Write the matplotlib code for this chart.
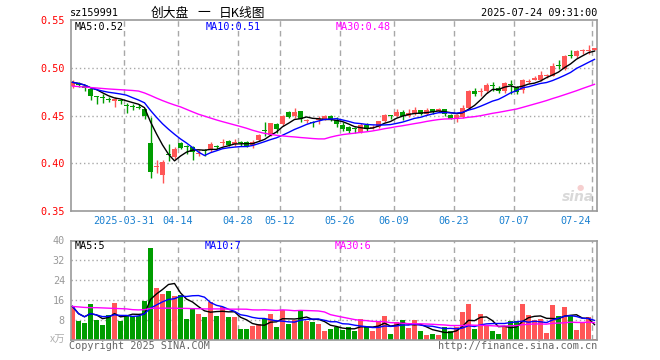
import numpy as np
import pandas as pd
import matplotlib
matplotlib.use("Agg")
import matplotlib.pyplot as plt
import matplotlib.transforms as mtrans

# daily candles, 2025-03-18 .. 2025-07-24 (88 trading days)
opens = [0.481, 0.4830, 0.481, 0.478, 0.471, 0.4694, 0.4674, 0.4653, 0.4660, 0.4612,
         0.4594, 0.4587, 0.4573, 0.4212, 0.3963, 0.3875, 0.4100, 0.4068, 0.4208, 0.4180,
         0.4168, 0.4100, 0.4135, 0.4140, 0.4180, 0.4208, 0.4236, 0.4202, 0.4219, 0.4224,
         0.4188, 0.4247, 0.4344, 0.4297, 0.4410, 0.4410, 0.4535, 0.4497, 0.4545, 0.4445,
         0.4436, 0.4452, 0.4458, 0.4495, 0.4450, 0.4405, 0.4378, 0.4364, 0.4331, 0.4405,
         0.4372, 0.4385, 0.4441, 0.4503, 0.4500, 0.4537, 0.4497, 0.4522, 0.4557, 0.4522,
         0.4566, 0.4548, 0.4565, 0.4503, 0.4466, 0.4490, 0.4583, 0.4757, 0.4747, 0.4757,
         0.4819, 0.4792, 0.4757, 0.4833, 0.4799, 0.4767, 0.4858, 0.4878, 0.4878, 0.4917,
         0.4920, 0.5028, 0.4990, 0.5132, 0.5128, 0.5174, 0.5177, 0.5184]
highs = [0.487, 0.485, 0.482, 0.479, 0.471, 0.4722, 0.470, 0.4694, 0.4677, 0.4635,
         0.4625, 0.4618, 0.4583, 0.4488, 0.4040, 0.4030, 0.4200, 0.4170, 0.4222, 0.4195,
         0.4180, 0.4135, 0.4149, 0.4219, 0.4191, 0.4250, 0.4247, 0.4254, 0.4233, 0.4230,
         0.4240, 0.4310, 0.4430, 0.4427, 0.4427, 0.4503, 0.4545, 0.4578, 0.4552, 0.4469,
         0.4445, 0.4497, 0.4503, 0.4503, 0.4486, 0.4430, 0.4392, 0.4384, 0.4420, 0.4420,
         0.4400, 0.4448, 0.4520, 0.4505, 0.4573, 0.4562, 0.4573, 0.4588, 0.4564, 0.4580,
         0.4566, 0.4580, 0.4570, 0.4514, 0.4514, 0.4608, 0.4767, 0.4792, 0.4792, 0.4844,
         0.4851, 0.4809, 0.4851, 0.4878, 0.4809, 0.4885, 0.4885, 0.4920, 0.4965, 0.4938,
         0.5052, 0.5087, 0.5139, 0.5191, 0.5184, 0.5198, 0.5236, 0.5212]
lows = [0.479, 0.480, 0.476, 0.466, 0.462, 0.4635, 0.4642, 0.4594, 0.4618, 0.4531,
        0.4559, 0.4566, 0.4462, 0.3844, 0.3895, 0.3795, 0.4028, 0.4045, 0.4149, 0.4100,
        0.4038, 0.4075, 0.4080, 0.4115, 0.4149, 0.4184, 0.4177, 0.4184, 0.4177, 0.4167,
        0.4163, 0.4236, 0.4288, 0.4288, 0.4320, 0.4392, 0.4476, 0.4479, 0.4436, 0.4418,
        0.4386, 0.4415, 0.4455, 0.4445, 0.4380, 0.4335, 0.4315, 0.4320, 0.4315, 0.4340,
        0.4358, 0.4372, 0.4436, 0.4462, 0.4490, 0.4458, 0.4490, 0.4503, 0.4503, 0.4503,
        0.4514, 0.4535, 0.4497, 0.4462, 0.4434, 0.4479, 0.4573, 0.4705, 0.4705, 0.4740,
        0.4757, 0.4733, 0.4740, 0.4722, 0.4722, 0.4740, 0.4844, 0.4872, 0.4861, 0.4896,
        0.4913, 0.4990, 0.4983, 0.5104, 0.5104, 0.5149, 0.5149, 0.5184]
closes = [0.485, 0.4825, 0.479, 0.4705, 0.4698, 0.4681, 0.4668, 0.4677, 0.4650, 0.4602,
          0.4590, 0.4580, 0.4497, 0.3906, 0.3972, 0.4010, 0.4092, 0.4149, 0.4160, 0.4176,
          0.4115, 0.4108, 0.4130, 0.4201, 0.4175, 0.4225, 0.4191, 0.4222, 0.4210, 0.4184,
          0.4224, 0.4299, 0.4337, 0.4420, 0.4365, 0.4497, 0.4481, 0.4536, 0.4462, 0.4455,
          0.4426, 0.4460, 0.4497, 0.4460, 0.4410, 0.4362, 0.4335, 0.4358, 0.4405, 0.4365,
          0.4384, 0.4441, 0.4505, 0.4498, 0.4535, 0.4497, 0.4527, 0.4557, 0.4518, 0.4560,
          0.4538, 0.4573, 0.4520, 0.4469, 0.4505, 0.4583, 0.4757, 0.4722, 0.4757, 0.4826,
          0.4812, 0.4757, 0.4844, 0.4820, 0.4747, 0.4878, 0.4865, 0.4896, 0.4931, 0.4924,
          0.5017, 0.5017, 0.5128, 0.5125, 0.5174, 0.5191, 0.5187, 0.5208]
# volume, unit 万
volumes = [13.5, 7.7, 6.8, 14.4, 8.0, 6.0, 10.0, 14.8, 7.7, 9.8,
           9.6, 9.6, 15.7, 36.8, 20.9, 18.5, 19.7, 17.7, 18.0, 8.4,
           12.6, 10.4, 9.2, 15.3, 9.6, 13.2, 9.3, 9.3, 4.3, 4.5,
           5.7, 6.6, 8.6, 10.4, 5.2, 12.0, 6.4, 8.2, 11.8, 7.8,
           7.2, 6.6, 3.7, 4.4, 5.3, 4.0, 5.2, 3.6, 8.4, 5.2,
           3.6, 7.2, 9.6, 2.4, 7.2, 8.0, 4.8, 8.0, 3.6, 2.0,
           2.4, 2.0, 5.2, 3.6, 5.2, 11.2, 14.4, 4.4, 10.4, 6.0,
           3.6, 2.4, 5.2, 7.6, 7.6, 14.4, 10.0, 8.0, 8.4, 2.8,
           14.0, 9.6, 13.2, 10.0, 4.0, 7.2, 9.2, 0.4]

# MA30 before a full 30-day window exists (days 0..28)
ma30_price_head = [0.481, 0.4805, 0.480, 0.4795, 0.479, 0.4785, 0.478, 0.4776, 0.4772, 0.4768,
                   0.4764, 0.4758, 0.4738, 0.4712, 0.4684, 0.4658, 0.4634, 0.4612, 0.4592, 0.4566,
                   0.4540, 0.4515, 0.4495, 0.4475, 0.4455, 0.4437, 0.4420, 0.4403, 0.4386]
ma30_vol_head = [13.5, 13.3, 13.1, 13.0, 13.0, 12.9, 12.8, 12.7, 12.6, 12.5,
                 12.2, 12.1, 12.2, 12.7, 12.8, 12.8, 12.8, 12.8, 12.7, 12.7,
                 12.6, 12.6, 12.5, 12.5, 12.5, 12.5, 12.4, 12.4, 12.4]

date_labels = ["2025-03-31", "04-14", "04-28", "05-12", "05-26", "06-09", "06-23", "07-07", "07-24"]
date_idx = [9, 18, 28, 35, 45, 54, 64, 74, 87]
price_ticks = [0.35, 0.40, 0.45, 0.50, 0.55]
vol_ticks = [8, 16, 24, 32, 40]

RED = "#ff5656"
GREEN = "#009d00"
GRID = "#a8a8a8"
FRAME = "#999999"
MONO = "DejaVu Sans Mono"
CJK = ["Noto Sans CJK SC", "DejaVu Sans"]


def ma(series, n, head=None):
    m = series.rolling(n, min_periods=1).mean()
    if head is not None:
        m.iloc[:len(head)] = head
    return m


x = np.arange(len(closes))
o = np.array(opens); c = np.array(closes)
up = c >= o
cols = [RED if u else GREEN for u in up]

cs = pd.Series(closes)
vs = pd.Series(volumes)

fig = plt.figure(figsize=(6.6, 3.6), dpi=100)
W, H = 660.0, 360.0


def fx(px):
    return px / W


def fy(py):
    return 1 - py / H


x0, x1 = 70.5, 597.0
ax = fig.add_axes([fx(x0), fy(211), (x1 - x0) / W, (211 - 20.3) / H])
axv = fig.add_axes([fx(x0), fy(340), (x1 - x0) / W, (340 - 240.5) / H])

xlim = ((x0 - 72.5) / 6.0, (x1 - 72.5) / 6.0)

for a in (ax, axv):
    a.set_xlim(*xlim)
    for s in a.spines.values():
        s.set_color(FRAME)
        s.set_linewidth(1.2)
    a.set_xticks([])
    a.tick_params(axis="y", length=0, pad=4)
    for d in date_idx:
        a.axvline(d - 0.4, color=GRID, lw=1, ls=(0, (4, 3)), zorder=0)

# ---- price panel
ax.set_ylim(0.35, 0.55)
for v in price_ticks[1:-1]:
    ax.axhline(v, color=GRID, lw=1, ls=(0, (1, 2)), zorder=0)
ax.set_yticks(price_ticks)
ax.set_yticklabels(["%.2f" % v for v in price_ticks], color="red", family=MONO, fontsize=7.3)

ax.vlines(x, lows, highs, colors=cols, lw=1, zorder=2)
body = np.maximum(np.abs(c - o), 0.0009)
ax.bar(x, body, bottom=np.minimum(o, c), width=0.78, color=cols, zorder=3, linewidth=0)

ax.plot(x, ma(cs, 5), color="black", lw=1, zorder=4)
ax.plot(x, ma(cs, 10), color="#0000ff", lw=1, zorder=4)
ax.plot(x, ma(cs, 30, ma30_price_head), color="#ff00ff", lw=1, zorder=4)

trans = mtrans.blended_transform_factory(ax.transData, fig.transFigure)
for d, lab in zip(date_idx, date_labels):
    ha = "right" if d == date_idx[-1] else "center"
    xx = d - 0.4 - (0.25 if ha == "right" else 0)
    ax.text(xx, fy(221.5), lab, transform=trans, ha=ha, va="center",
            color="#1a80d0", family=MONO, fontsize=7.3)

fig.text(fx(75), fy(26.5), "MA5:0.52", color="black", family=MONO, fontsize=7.3, va="center")
fig.text(fx(206), fy(26.5), "MA10:0.51", color="#0000ff", family=MONO, fontsize=7.3, va="center")
fig.text(fx(336), fy(26.5), "MA30:0.48", color="#ff00ff", family=MONO, fontsize=7.3, va="center")
fig.text(fx(578), fy(197), "sina", color="#c0c0c0", alpha=0.6, fontsize=10,
         style="italic", weight="bold", ha="center", va="center")
fig.text(fx(580), fy(187), "●", color="#f0b0b0", alpha=0.6, fontsize=6,
         ha="center", va="center")

# ---- volume panel
axv.set_ylim(0, 40)
for v in vol_ticks[:-1]:
    axv.axhline(v, color=GRID, lw=1, ls=(0, (1, 2)), zorder=0)
axv.set_yticks(vol_ticks)
axv.set_yticklabels([str(v) for v in vol_ticks], color="#999999", family=MONO, fontsize=7.3)
axv.bar(x, volumes, width=0.82, color=cols, linewidth=0, zorder=2)
axv.plot(x, ma(vs, 5), color="black", lw=1, zorder=4)
axv.plot(x, ma(vs, 10), color="#0000ff", lw=1, zorder=4)
axv.plot(x, ma(vs, 30, ma30_vol_head), color="#ff00ff", lw=1, zorder=4)

fig.text(fx(75), fy(246), "MA5:5", color="black", family=MONO, fontsize=7.3, va="center")
fig.text(fx(205), fy(246), "MA10:7", color="#0000ff", family=MONO, fontsize=7.3, va="center")
fig.text(fx(335), fy(246), "MA30:6", color="#ff00ff", family=MONO, fontsize=7.3, va="center")

# ---- header / footer
fig.text(fx(70), fy(13), "sz159991", color="black", family=MONO, fontsize=7.3, va="center")
fig.text(fx(151), fy(13), "创大盘", color="black", family=CJK, fontsize=9.2, va="center")
fig.text(fx(197), fy(13), "一", color="black", family=CJK, fontsize=9.2, va="center")
fig.text(fx(219), fy(13), "日K线图", color="black", family=CJK, fontsize=9.2, va="center")
fig.text(fx(597), fy(13), "2025-07-24 09:31:00", color="black", family=MONO,
         fontsize=7.3, va="center", ha="right")
fig.text(fx(50), fy(340), "x万", color="#b0b0b0", family=CJK,
         fontsize=7.5, va="center", style="italic")
fig.text(fx(69), fy(346), "Copyright 2025 SINA.COM", color="#666666", family=MONO,
         fontsize=7.3, va="center")
fig.text(fx(597), fy(346), "http://finance.sina.com.cn", color="#666666", family=MONO,
         fontsize=7.3, va="center", ha="right")

fig.savefig("out.png", dpi=100)
